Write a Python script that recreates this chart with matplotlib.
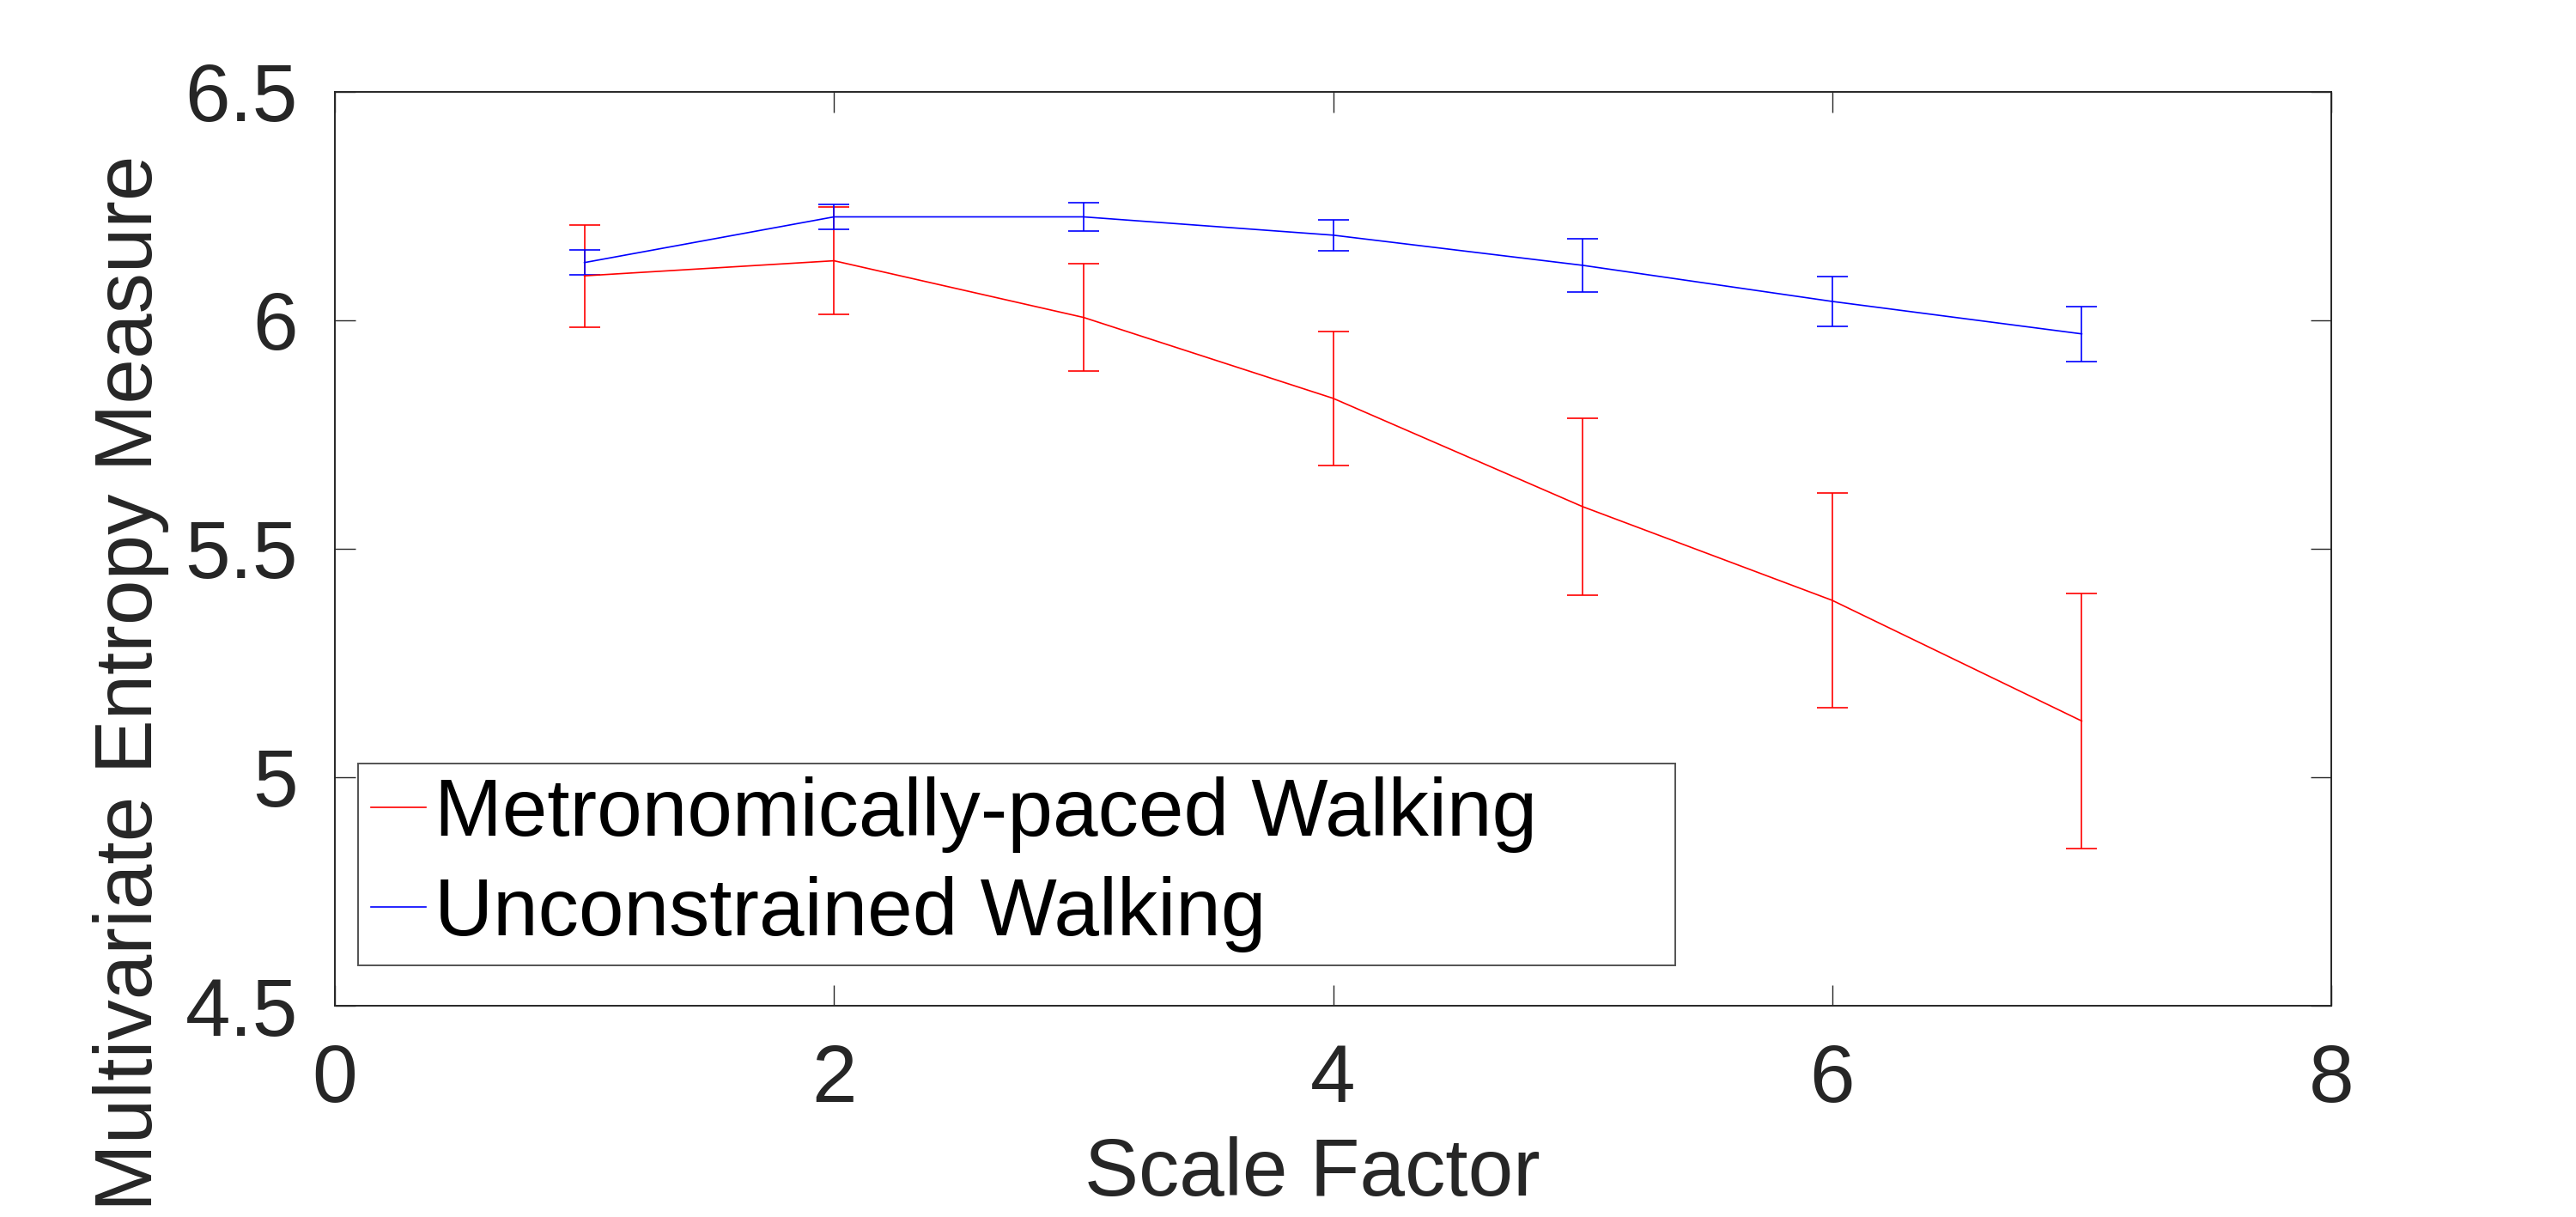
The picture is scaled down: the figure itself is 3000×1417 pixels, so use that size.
import matplotlib
matplotlib.use("Agg")
import matplotlib.pyplot as plt

# Data
scale_factor = [1, 2, 3, 4, 5, 6, 7]
metronome_mean = [6.097, 6.130, 6.006, 5.829, 5.592, 5.387, 5.123]
metronome_err = [0.112, 0.118, 0.117, 0.147, 0.194, 0.234, 0.279]
unconstrained_mean = [6.126, 6.226, 6.226, 6.186, 6.120, 6.041, 5.970]
unconstrained_err = [0.027, 0.027, 0.031, 0.034, 0.058, 0.054, 0.060]
labels = ["Metronomically-paced Walking", "Unconstrained Walking"]
xticks = [0, 2, 4, 6, 8]
yticks = [4.5, 5, 5.5, 6, 6.5]

plt.rcParams['font.family'] = ['Liberation Sans', 'DejaVu Sans']
FS = 34
AX_COL = '#262626'

fig = plt.figure(figsize=(15, 7.085), dpi=200)
ax = fig.add_axes([0.13, 0.1736, 0.775, 0.7511])

eb1 = ax.errorbar(scale_factor, metronome_mean, yerr=metronome_err, color=(1, 0, 0),
                  lw=0.6, elinewidth=0.6, capsize=6.6, capthick=0.6)
eb2 = ax.errorbar(scale_factor, unconstrained_mean, yerr=unconstrained_err, color=(0, 0, 1),
                  lw=0.6, elinewidth=0.6, capsize=6.6, capthick=0.6)

ax.set_xlim(0, 8)
ax.set_ylim(4.5, 6.5)
ax.set_xticks(xticks)
ax.set_yticks(yticks)
ax.set_xticklabels([str(v) for v in xticks])
ax.set_yticklabels([("%g" % v) for v in yticks])

for s in ax.spines.values():
    s.set_color(AX_COL)
    s.set_linewidth(0.7)

ax.tick_params(direction='in', length=8.6, width=0.5, color=AX_COL,
               labelsize=FS, labelcolor=AX_COL, pad=15.5,
               top=True, right=True)

ax.set_xlabel("Scale Factor", fontsize=FS, color=AX_COL)
ax.set_ylabel("Multivariate Entropy Measure", fontsize=FS, color=AX_COL)
ax.xaxis.set_label_coords(0.4895, -0.1428)
ax.yaxis.set_label_coords(-0.083, 0.353)

leg = ax.legend(handles=[eb1[0], eb2[0]], labels=labels,
                loc='lower left', bbox_to_anchor=(0.0116, 0.044, 0.660, 0.217),
                mode='expand', borderaxespad=0, fontsize=FS, frameon=True,
                fancybox=False, handlelength=0.68, handletextpad=0.1,
                labelspacing=0.29, borderpad=0.16)
leg.get_frame().set_edgecolor('#262626')
leg.get_frame().set_linewidth(0.7)
for t in leg.get_texts():
    t.set_color('black')

fig.savefig("out.png", dpi=200)
